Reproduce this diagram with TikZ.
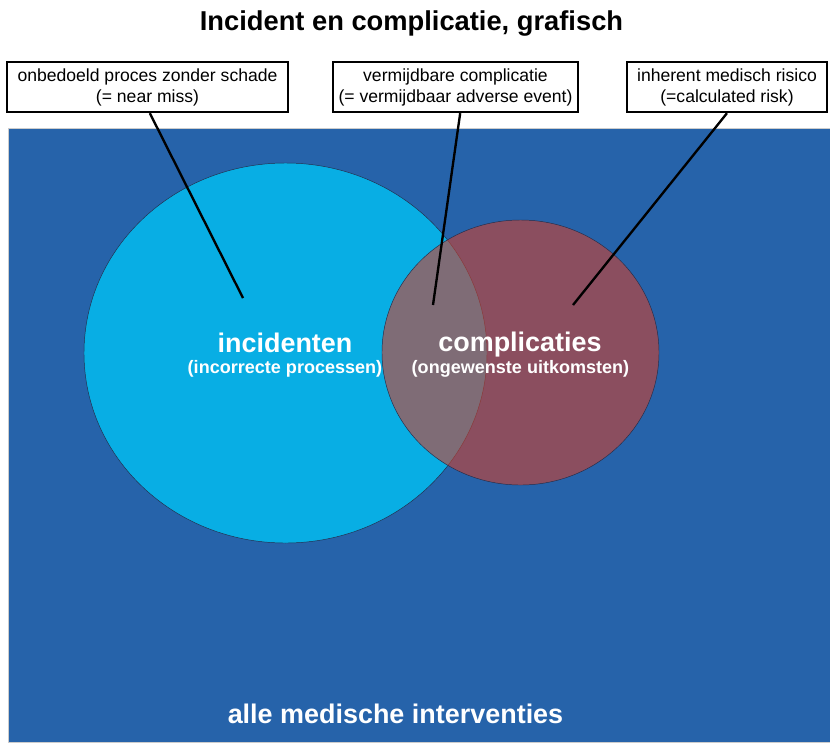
\documentclass[tikz,border=0pt]{standalone}
\usepackage{fontspec}
\setmainfont{Liberation Sans}
\definecolor{fieldblue}{RGB}{38,99,170}
\definecolor{setcyan}{RGB}{8,174,228}
\definecolor{setred}{RGB}{207,64,45}
\definecolor{rimdark}{RGB}{35,45,75}
\tikzset{
  callout/.style={draw=black, line width=2pt, fill=white, align=center,
    minimum height=1.5cm, inner sep=2pt, font=\fontsize{15}{18}\selectfont},
  leader/.style={black, line width=2pt},
  setname/.style={text=white, anchor=base, font=\bfseries\fontsize{23}{26}\selectfont},
  setnote/.style={text=white, anchor=base, font=\bfseries\fontsize{15.4}{18}\selectfont}
}
\begin{document}
\begin{tikzpicture}[x=0.03cm, y=-0.03cm]
    \useasboundingbox (0,0) rectangle (830,742);
    % Field of all interventions
    \draw[gray!40, thin, fill=fieldblue] (8,128) rectangle (830,742);
    \node[text=white, font=\bfseries\fontsize{23}{26}\selectfont] (alle) at (395.5,714) {alle medische interventies};

    % Sets
    \draw[rimdark, thin, fill=setcyan] (285.5,353) ellipse [x radius=6.045cm, y radius=5.7cm];
    \draw[rimdark, thin, fill=setred, fill opacity=0.6] (520.5,352.5) ellipse [x radius=4.155cm, y radius=3.975cm];

    % Set labels
    \node[setname] (inc) at (285,352) {incidenten};
    \node[setnote] (incnote) at (285,373) {(incorrecte processen)};
    \node[setname] (comp) at (520,351) {complicaties};
    \node[setnote] (compnote) at (520.5,373) {(ongewenste uitkomsten)};

    % Callouts
    \node[callout, minimum width=8.43cm] (miss) at (147.5,87) {onbedoeld proces zonder schade\\(= near miss)};
    \node[callout, minimum width=7.35cm] (avoid) at (455.5,87) {vermijdbare complicatie\\(= vermijdbaar adverse event)};
    \node[callout, minimum width=6.0cm] (risk) at (727,87) {inherent medisch risico\\(=calculated risk)};

    \coordinate (tipmiss) at (243,298);
    \coordinate (tipavoid) at (433,305);
    \coordinate (tiprisk) at (573,305);
    \draw[leader] ([xshift=2pt]miss.south) -- (tipmiss);
    \draw[leader] ([xshift=4pt]avoid.south) -- (tipavoid);
    \draw[leader] (risk.south) -- (tiprisk);

    % Title
    \node[anchor=base, font=\bfseries\fontsize{23.3}{26}\selectfont] (title) at (411.5,30) {Incident en complicatie, grafisch};
\end{tikzpicture}
\end{document}
